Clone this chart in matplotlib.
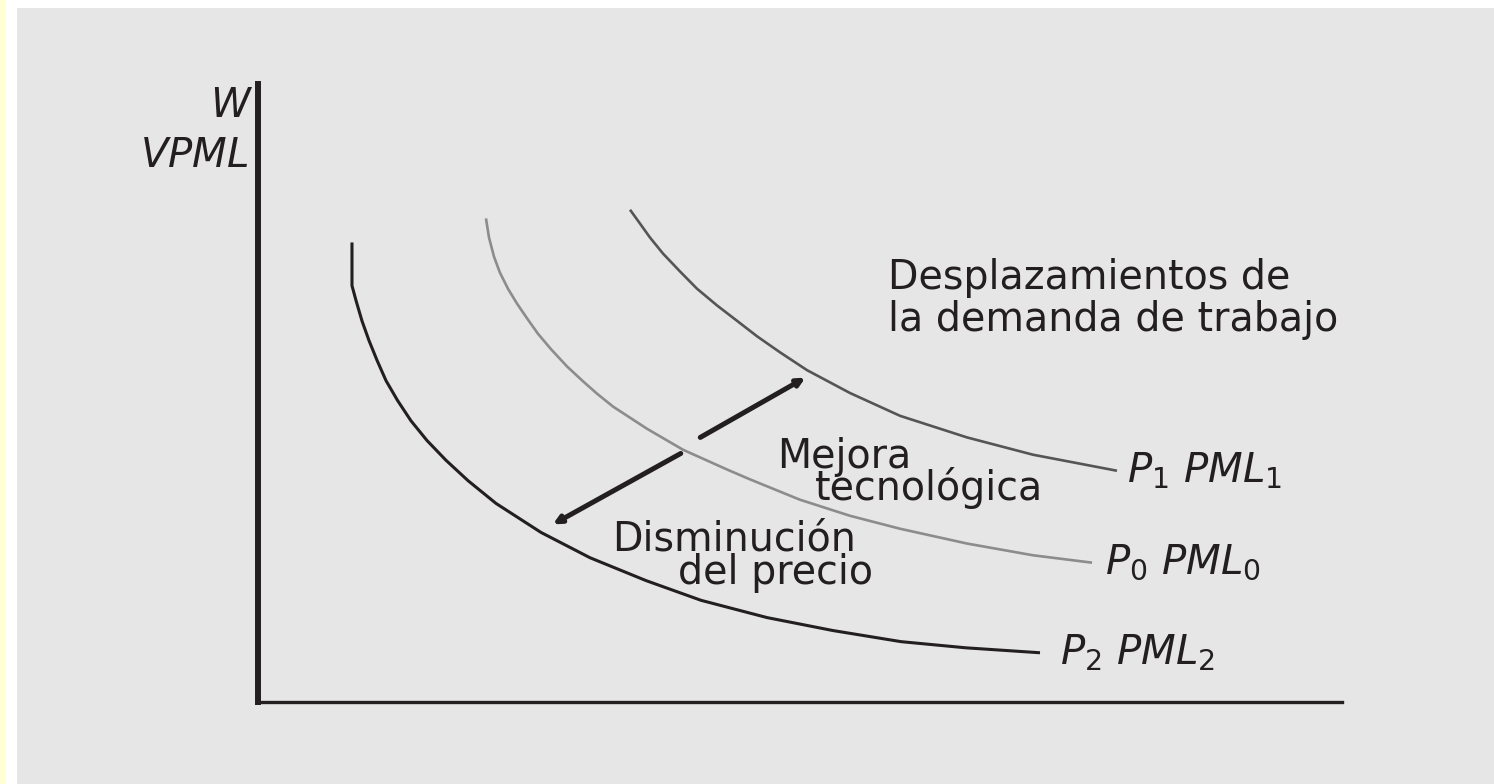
import matplotlib
matplotlib.use("Agg")
import matplotlib.pyplot as plt
from matplotlib.patches import Rectangle

# curves (labour on x, wage on y, 0..10 scale)
p2_x = [0.867, 0.867, 0.904, 0.959, 1.024, 1.098, 1.181, 1.287, 1.411, 1.559, 1.734,
        1.937, 2.196, 2.611, 3.063, 3.579, 4.087, 4.696, 5.304, 5.932, 6.531, 7.214]
p2_y = [7.44, 6.74, 6.50, 6.17, 5.85, 5.53, 5.20, 4.88, 4.55, 4.23, 3.91,
        3.58, 3.21, 2.74, 2.33, 1.96, 1.64, 1.36, 1.15, 0.97, 0.87, 0.79]

p0_x = [2.103, 2.131, 2.177, 2.232, 2.306, 2.389, 2.482, 2.583, 2.703, 2.851, 2.998, 3.127,
        3.275, 3.589, 3.921, 4.327, 4.539, 5.000, 5.461, 5.923, 6.541, 7.149, 7.694]
p0_y = [7.83, 7.52, 7.21, 6.95, 6.69, 6.45, 6.21, 5.96, 5.71, 5.43, 5.19, 4.99,
        4.78, 4.42, 4.08, 3.76, 3.60, 3.27, 3.01, 2.80, 2.56, 2.37, 2.25]

p1_x = [3.432, 3.506, 3.616, 3.736, 3.893, 4.050, 4.234, 4.419, 4.603, 4.815, 5.065,
        5.461, 5.923, 6.541, 7.149, 7.924]
p1_y = [7.97, 7.79, 7.52, 7.26, 6.97, 6.69, 6.42, 6.17, 5.92, 5.66, 5.37,
        5.00, 4.63, 4.28, 4.00, 3.74]

# shift arrows: (start, end)
arrow_tech = ((4.08, 4.28), (5.05, 5.25))
arrow_price = ((3.90, 4.02), (2.72, 2.87))

curve_labels = [r"$P_1\ PML_1$", r"$P_0\ PML_0$", r"$P_2\ PML_2$"]
y_labels = [r"$W$", r"$VPML$"]

INK = "#231f20"
PANEL = "#e6e6e6"

plt.rcParams["mathtext.fontset"] = "dejavusans"
plt.rcParams["font.family"] = ["DejaVu Sans"]

W_PX, H_PX = 1494, 784
fig = plt.figure(figsize=(W_PX / 100, H_PX / 100), dpi=100, facecolor="white")

# page decoration: yellow margin strip and grey panel
fig.patches.append(Rectangle((0, 0), 6 / W_PX, 1, transform=fig.transFigure,
                             facecolor="#ffffd4", edgecolor="none", zorder=-10))
fig.patches.append(Rectangle((17 / W_PX, 0), 1 - 17 / W_PX, (H_PX - 8) / H_PX,
                             transform=fig.transFigure, facecolor=PANEL,
                             edgecolor="none", zorder=-10))

ax = fig.add_axes([258 / W_PX, (H_PX - 701.5) / H_PX, 1084 / W_PX, 617 / H_PX])
ax.set_zorder(5)
ax.set_facecolor("none")
ax.set_xlim(0, 10)
ax.set_ylim(0, 10)
ax.set_xticks([])
ax.set_yticks([])
for side in ("top", "right"):
    ax.spines[side].set_visible(False)
ax.spines["left"].set_linewidth(4.3)
ax.spines["bottom"].set_linewidth(2.4)
ax.spines["left"].set_color(INK)
ax.spines["bottom"].set_color(INK)

line_kw = dict(solid_capstyle="butt", solid_joinstyle="round")
ax.plot(p2_x, p2_y, color=INK, lw=2.2, **line_kw)
ax.plot(p0_x, p0_y, color="#8c8c8c", lw=1.9, **line_kw)
ax.plot(p1_x, p1_y, color="#555555", lw=1.9, **line_kw)

for start, end in (arrow_tech, arrow_price):
    ax.annotate("", xy=end, xytext=start,
                arrowprops=dict(arrowstyle="-|>,head_length=0.45,head_width=0.22",
                                lw=3.6, color=INK, shrinkA=0, shrinkB=0))

fs = 28.5
txt = dict(color=INK, fontsize=fs, va="baseline", ha="left")
ax.text(5.81, 6.69, "Desplazamientos de", **txt)
ax.text(5.81, 6.01, "la demanda de trabajo", **txt)
ax.text(4.79, 3.79, "Mejora", **txt)
ax.text(5.14, 3.26, "tecnológica", **txt)
ax.text(3.27, 2.45, "Disminución", **txt)
ax.text(3.87, 1.91, "del precio", **txt)

lab = dict(color=INK, fontsize=29, va="baseline", ha="left")
ax.text(8.02, 3.55, curve_labels[0], **lab)
ax.text(7.81, 2.07, curve_labels[1], **lab)
ax.text(7.40, 0.60, curve_labels[2], **lab)

ylab = dict(color=INK, fontsize=29, va="baseline", ha="right", clip_on=False)
ax.text(-0.05, 9.47, y_labels[0], **ylab)
ax.text(-0.09, 8.67, y_labels[1], **ylab)

fig.savefig("out.png", dpi=100, facecolor=fig.get_facecolor())
